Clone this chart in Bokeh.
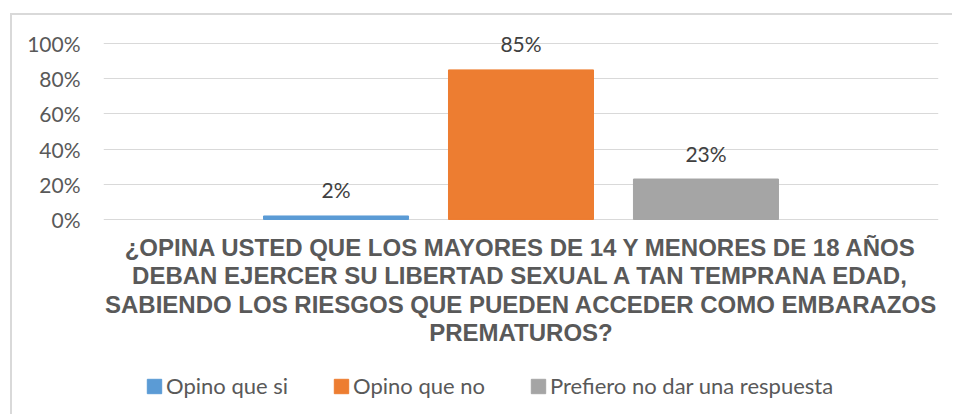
from bokeh.plotting import figure
from bokeh.models import (ColumnDataSource, Range1d, FixedTicker, NumeralTickFormatter,
                          LabelSet, Label, Legend, LegendItem)
from bokeh.core.properties import value
from bokeh.embed import file_html
from bokeh.resources import INLINE

# ---- data ----
series = ["Opino que si", "Opino que no", "Prefiero no dar una respuesta"]
values = [0.02, 0.85, 0.23]
colors = ["#5B9BD5", "#ED7D31", "#A5A5A5"]
y_ticks = [0, 0.2, 0.4, 0.6, 0.8, 1.0]
category_lines = [
    "¿OPINA USTED QUE LOS MAYORES DE 14 Y MENORES DE 18 AÑOS",
    "DEBAN EJERCER SU LIBERTAD SEXUAL A TAN TEMPRANA EDAD,",
    "SABIENDO LOS RIESGOS QUE PUEDEN ACCEDER COMO EMBARAZOS",
    "PREMATUROS?",
]

src = ColumnDataSource(dict(
    x=list(range(len(series))),
    top=values,
    color=colors,
    label=series,
    text=[f"{round(v * 100)}%" for v in values],
))

FW = 835
p = figure(width=942, height=401,
           output_backend="svg", toolbar_location=None,
           x_range=Range1d(-1.257, 3.257), y_range=Range1d(-1.1193, 1.0852),
           min_border_left=91, min_border_right=16, min_border_top=13, min_border_bottom=0)
p.styles = {"margin-left": "10px", "margin-top": "13px",
            "border-left": "2px solid #D9D9D9", "border-top": "2px solid #D9D9D9"}
p.outline_line_color = None
p.background_fill_color = "white"
p.border_fill_color = "white"

r = p.vbar(x="x", top="top", width=0.784, bottom=0, color="color", source=src)

p.xaxis.visible = False
p.xgrid.grid_line_color = None
p.ygrid.grid_line_color = "#D9D9D9"
p.ygrid.grid_line_width = 1.2
p.yaxis.ticker = FixedTicker(ticks=y_ticks)
p.yaxis.formatter = NumeralTickFormatter(format="0%")
p.yaxis.axis_line_color = None
p.yaxis.major_tick_line_color = None
p.yaxis.minor_tick_line_color = None
p.yaxis.major_tick_out = 0
p.yaxis.major_tick_in = 0
p.yaxis.major_label_standoff = 23
p.yaxis.major_label_text_font = "Lato"
p.yaxis.major_label_text_font_size = "21px"
p.yaxis.major_label_text_color = "#595959"

labels = LabelSet(x="x", y="top", text="text", source=src, y_offset=26,
                  text_align="center", text_baseline="middle",
                  text_font=value("Lato"), text_font_size=value("21px"),
                  text_color="#404040")
p.add_layout(labels)

# category label (wrapped in 4 lines), positioned below the zero line
for i, line in enumerate(category_lines):
    p.add_layout(Label(x=FW / 2, y=169 - 28.3 * i, x_units="screen", y_units="screen",
                       text=line, text_align="center", text_baseline="middle",
                       text_font="Liberation Sans", text_font_style="bold",
                       text_font_size="24px", text_color="#595959"))

legend = Legend(items=[LegendItem(label=dict(field="label"), renderers=[r])],
                orientation="horizontal", location=(42, 17),
                glyph_width=18, glyph_height=18, label_standoff=3, spacing=44,
                padding=0, margin=0, border_line_color=None, background_fill_alpha=0,
                label_text_font="Lato", label_text_font_size="22px",
                label_text_color="#595959")
p.add_layout(legend)

open("out.html", "w").write(file_html(p, INLINE))
